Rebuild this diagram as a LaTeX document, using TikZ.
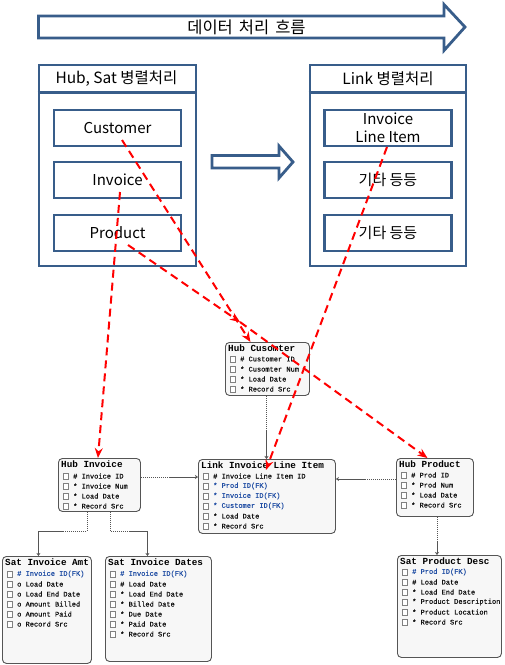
\documentclass[tikz,border=0pt]{standalone}
\usepackage{fontspec}
\newfontfamily\kr{Noto Sans CJK KR}
\newfontfamily\erdfont{Liberation Mono}
\newfontfamily\erdrowfont[FakeBold=0.6]{Liberation Mono}
\usetikzlibrary{arrows.meta}
\definecolor{panelblue}{RGB}{56,93,138}
\definecolor{fkblue}{RGB}{35,80,165}
\definecolor{rowgray}{RGB}{20,20,20}
\definecolor{erdborder}{RGB}{85,85,85}
\definecolor{erdfill}{RGB}{247,247,247}
\definecolor{redline}{RGB}{255,0,0}
\tikzset{
  panel/.style={draw=panelblue, line width=2.8pt, fill=white, inner sep=0pt},
  itembox/.style={draw=panelblue, line width=2.8pt, fill=white, inner sep=0pt,
    minimum width=127pt, minimum height=36pt, font=\kr\fontsize{15}{17}\selectfont, align=center},
  krtext/.style={font=\kr\fontsize{15.5}{17}\selectfont, inner sep=0pt},
  flowtext/.style={font=\kr\fontsize{16.5}{18}\selectfont, inner sep=0pt},
  bigarrow/.style={draw=panelblue, line width=2.8pt, fill=white, line join=miter},
  redarrow/.style={draw=redline, line width=2pt, dash pattern=on 8pt off 5pt,
    -{Stealth[length=10pt,width=8pt]}},
  erdbox/.style={draw=erdborder, line width=0.9pt, fill=erdfill, rounded corners=4pt, inner sep=0pt},
  erdtitle/.style={font=\erdfont\fontsize{9.3}{10}\bfseries\selectfont, inner sep=0pt, text=black},
  erdrow/.style={font=\erdrowfont\fontsize{7}{8}\selectfont, inner sep=0pt},
  cbox/.style={draw=gray, line width=0.5pt, fill=white, minimum size=5.5pt, inner sep=0pt},
  erddot/.style={draw=erdborder, line width=0.8pt, dash pattern=on 1pt off 1pt},
  erdsolid/.style={draw=erdborder, line width=0.8pt, -{Stealth[length=3pt,width=4pt]}},
}
\newcommand\entity[6]{%
  \node[erdbox, minimum width=#4pt, minimum height=#5pt, anchor=north west] (#1) at (#2,#3) {};
  \node[erdtitle, anchor=west] (#1t) at (#2+3,#3+6.5) {#6};
}
\newcommand\erow[5]{%
  \node[cbox] (#1b) at (#2+7.5,#3) {};
  \node[erdrow, text=#4, anchor=west] (#1) at (#2+15,#3) {#5};
}
\begin{document}
\begin{tikzpicture}[x=1pt,y=-1pt]
\useasboundingbox[fill=white] (0,0) rectangle (505,665);

% top flow arrow
\draw[bigarrow] (38.5,16) -- (444,16) -- (444,4.5) -- (465,27) -- (444,50.5) -- (444,38) -- (38.5,38) -- cycle;
\node[flowtext] (flow) at (246.5,27) {데이터\hspace{6pt}처리\hspace{6pt}흐름};

% middle arrow
\draw[bigarrow] (212,155.5) -- (279,155.5) -- (279,146) -- (293,162) -- (279,178) -- (279,168) -- (212,168) -- cycle;

% left panel
\node[panel, minimum width=157pt, minimum height=201pt] (lp) at (117.5,165.5) {};
\draw[panelblue, line width=2.8pt] ([yshift=-29pt]lp.north west) -- ([yshift=-29pt]lp.north east);
\node[krtext] (lph) at (116.5,79) {Hub, Sat 병렬처리};
\node[itembox] (cust) at (117.5,128) {Customer};
\node[itembox] (inv) at (117.5,180) {Invoice};
\node[itembox] (prod) at (117.5,233) {Product};

% right panel
\node[panel, minimum width=156pt, minimum height=201pt] (rp) at (388,165.5) {};
\draw[panelblue, line width=2.8pt] ([yshift=-29pt]rp.north west) -- ([yshift=-29pt]rp.north east);
\node[krtext] (rph) at (388,79) {Link 병렬처리};
\node[itembox] (ili) at (388,128) {Invoice\\[1pt]Line Item};
\node[itembox] (etc1) at (388,180) {기타 등등};
\node[itembox] (etc2) at (388,233) {기타 등등};

% ERD entities
\entity{hubcust}{225}{342}{84}{53}{Hub Cusomter}
\erow{hc1}{225}{359}{rowgray}{\# Customer ID}
\erow{hc2}{225}{369}{rowgray}{* Cusomter Num}
\erow{hc3}{225}{379}{rowgray}{* Load Date}
\erow{hc4}{225}{389}{rowgray}{* Record Src}

\entity{hubinv}{58}{458}{82}{53}{Hub Invoice}
\erow{hi1}{58}{476}{rowgray}{\# Invoice ID}
\erow{hi2}{58}{486}{rowgray}{* Invoice Num}
\erow{hi3}{58}{496}{rowgray}{* Load Date}
\erow{hi4}{58}{506}{rowgray}{* Record Src}

\entity{link}{198}{459}{137}{74}{Link Invoice Line Item}
\erow{li1}{198}{476}{rowgray}{\# Invoice Line Item ID}
\erow{li2}{198}{486}{fkblue}{* Prod ID(FK)}
\erow{li3}{198}{496}{fkblue}{* Invoice ID(FK)}
\erow{li4}{198}{506}{fkblue}{* Customer ID(FK)}
\erow{li5}{198}{516}{rowgray}{* Load Date}
\erow{li6}{198}{526}{rowgray}{* Record Src}

\entity{hubprod}{396}{458}{77}{58}{Hub Product}
\erow{hp1}{396}{475}{rowgray}{\# Prod ID}
\erow{hp2}{396}{485}{rowgray}{* Prod Num}
\erow{hp3}{396}{495}{rowgray}{* Load Date}
\erow{hp4}{396}{505}{rowgray}{* Record Src}

\entity{satamt}{2}{556}{89}{107}{Sat Invoice Amt}
\erow{sa1}{2}{574}{fkblue}{\# Invoice ID(FK)}
\erow{sa2}{2}{584}{rowgray}{o Load Date}
\erow{sa3}{2}{594}{rowgray}{o Load End Date}
\erow{sa4}{2}{604}{rowgray}{o Amount Billed}
\erow{sa5}{2}{614}{rowgray}{o Amount Paid}
\erow{sa6}{2}{624}{rowgray}{o Record Src}

\entity{satdates}{105}{556}{106}{105}{Sat Invoice Dates}
\erow{sd1}{105}{574}{fkblue}{\# Invoice ID(FK)}
\erow{sd2}{105}{584}{rowgray}{\# Load Date}
\erow{sd3}{105}{594}{rowgray}{* Load End Date}
\erow{sd4}{105}{604}{rowgray}{* Billed Date}
\erow{sd5}{105}{614}{rowgray}{* Due Date}
\erow{sd6}{105}{624}{rowgray}{* Paid Date}
\erow{sd7}{105}{634}{rowgray}{* Record Src}

\entity{satprod}{397}{555}{104}{102}{Sat Product Desc}
\erow{sp1}{397}{572}{fkblue}{\# Prod ID(FK)}
\erow{sp2}{397}{582}{rowgray}{\# Load Date}
\erow{sp3}{397}{592}{rowgray}{* Load End Date}
\erow{sp4}{397}{602}{rowgray}{* Product Description}
\erow{sp5}{397}{612}{rowgray}{* Product Location}
\erow{sp6}{397}{622}{rowgray}{* Record Src}

% ERD connectors
\coordinate (k1) at (266.5,430);
\draw[erddot] (hubcust.south -| k1) -- (k1);
\draw[erdsolid] (k1) -- (link.north -| k1);

\coordinate (k2) at (170,477);
\draw[erddot] (hubinv.east |- k2) -- (k2);
\draw[erdsolid] (k2) -- (link.west |- k2);

\coordinate (k3) at (365,479);
\draw[erddot] (hubprod.west |- k3) -- (k3);
\draw[erdsolid] (k3) -- (link.east |- k3);

\coordinate (k4a) at (87,531);
\coordinate (k4) at (62,531);
\draw[erddot] (hubinv.south -| k4a) -- (k4a) -- (k4);
\draw[erdsolid] (k4) -| ([xshift=-8.5pt]satamt.north);

\coordinate (k5a) at (110,531);
\coordinate (k5) at (130,531);
\draw[erddot] (hubinv.south -| k5a) -- (k5a) -- (k5);
\draw[erdsolid] (k5) -| ([xshift=-11pt]satdates.north);

\coordinate (k6) at (437,542);
\draw[erddot] (hubprod.south -| k6) -- (k6);
\draw[erdsolid] (k6) -- (satprod.north -| k6);

% red dashed mapping arrows
\draw[redarrow] ([xshift=4.5pt,yshift=-12pt]cust.center) -- ([xshift=-17pt]hubcust.north);
\draw[redarrow] ([xshift=2.5pt,yshift=-12pt]inv.center) -- ([xshift=-1.5pt]hubinv.north);
\coordinate (pmid) at (240,322);
\draw[redarrow] ([xshift=10.5pt,yshift=-12pt]prod.center) -- (pmid);
\draw[redarrow] (pmid) -- ([xshift=-7.5pt]hubprod.north);
\draw[redarrow] ([xshift=-1pt,yshift=-19pt]ili.center) -- ([xshift=-1pt,yshift=-11pt]link.north);
\end{tikzpicture}
\end{document}
